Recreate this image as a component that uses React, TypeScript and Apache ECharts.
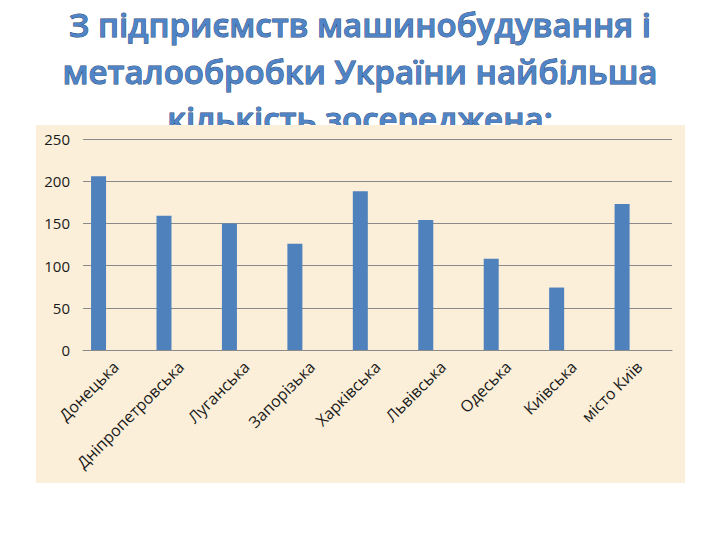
import React, { useEffect, useRef } from "react";
import * as echarts from "echarts";

const categories = [
  "Донецька",
  "Дніпропетровська",
  "Луганська",
  "Запорізька",
  "Харківська",
  "Львівська",
  "Одеська",
  "Київська",
  "місто Київ",
];
const values = [206, 159, 150, 126, 188, 154, 108, 74, 173];
const emptyValues = categories.map(() => null);
const titleLines = [
  "З підприємств машинобудування і",
  "металообробки України найбільша",
  "кількість зосереджена:",
];

export default function App() {
  const ref = useRef<HTMLDivElement>(null);
  useEffect(() => {
    if (!ref.current) return;
    const chart = echarts.init(ref.current, null, { renderer: "svg" });
    const yPos = [41, 88, 135];
    chart.setOption({
      animation: false,
      backgroundColor: "#ffffff",
      graphic: [
        ...titleLines.map((t, i) => ({
          type: "text",
          x: 360,
          y: yPos[i],
          z: 0,
          style: {
            text: t,
            fill: "#4F84C6",
            stroke: "#1F3F6E",
            lineWidth: 0.9,
            font: "600 33px 'Open Sans'",
            textAlign: "center",
            textVerticalAlign: "bottom",
          },
        })),
        {
          type: "rect",
          z: 1,
          shape: { x: 36, y: 125, width: 649, height: 358 },
          style: { fill: "#FBEFD9" },
        },
      ],
      grid: { left: 83, right: 48, top: 139, bottom: 190, containLabel: false },
      xAxis: {
        type: "category",
        data: categories,
        z: 5,
        axisLine: { show: true, lineStyle: { color: "#8A8A8A", width: 1 } },
        axisTick: { show: false },
        axisLabel: {
          rotate: 45,
          interval: 0,
          margin: 14,
          color: "#1a1a1a",
          fontFamily: "Open Sans",
          fontSize: 16,
        },
      },
      yAxis: {
        type: "value",
        min: 0,
        max: 250,
        interval: 50,
        z: 5,
        axisLine: { show: false },
        axisTick: { show: false },
        splitLine: { lineStyle: { color: "#8A8A8A", width: 1 } },
        axisLabel: {
          margin: 13,
          color: "#1a1a1a",
          fontFamily: "Open Sans",
          fontSize: 15,
        },
      },
      series: [
        {
          type: "bar",
          data: values,
          barWidth: 15,
          barGap: "129%",
          z: 6,
          itemStyle: { color: "#4F81BD" },
        },
        {
          type: "bar",
          data: emptyValues,
          barWidth: 15,
          z: 6,
        },
      ],
    });
    return () => chart.dispose();
  }, []);
  return (
    <div
      ref={ref}
      style={{ position: "fixed", left: 0, top: 0, width: 720, height: 540 }}
    />
  );
}
